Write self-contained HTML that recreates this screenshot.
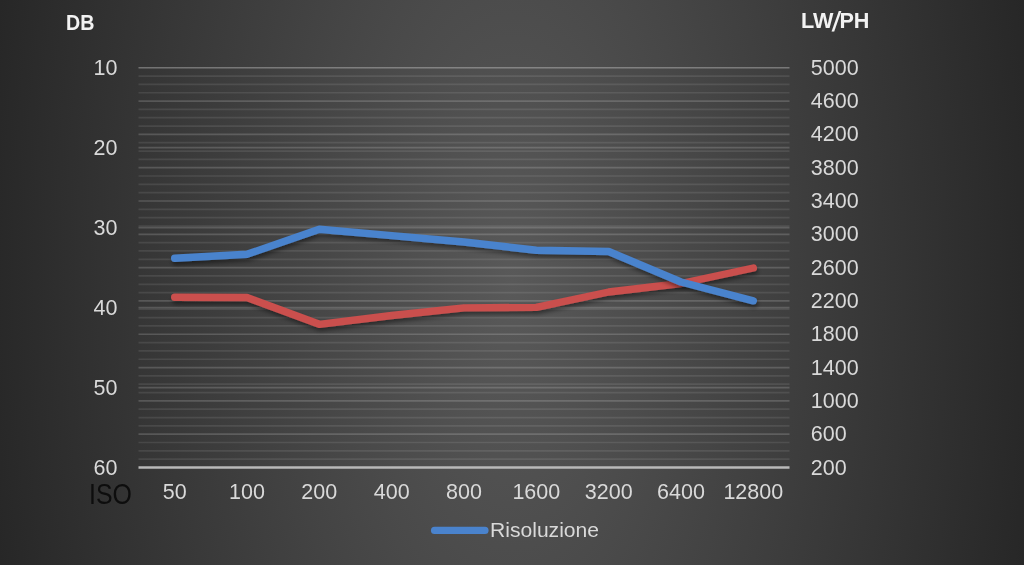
<!DOCTYPE html>
<html><head><meta charset="utf-8"><style>
html,body{margin:0;padding:0;}
body{width:1024px;height:565px;overflow:hidden;position:relative;
background:radial-gradient(540px 1128px at 512px 282px, #595959 0%, #262626 100%);
font-family:"Liberation Sans",sans-serif;}
svg{position:absolute;left:0;top:0;}
.gm{stroke:rgba(255,255,255,0.09);stroke-width:1.7}
.gM{stroke:rgba(255,255,255,0.165);stroke-width:1.7}
.gP{stroke:rgba(255,255,255,0.165);stroke-width:1.7}
.ax{stroke:#b9b9b9;stroke-width:2.6}
.t{position:absolute;white-space:nowrap;line-height:24px;color:#d9d9d9;}
.num{font-size:21.5px;}
.r{text-align:right;}
.c{text-align:center;}
.b{font-weight:bold;color:#f2f2f2;}
</style></head><body>
<svg width="1024" height="565" viewBox="0 0 1024 565">
<defs><filter id="gb" x="0" y="-1" width="1" height="3"><feGaussianBlur stdDeviation="0 0.65"/></filter><filter id="sh" x="-10%" y="-50%" width="120%" height="200%"><feGaussianBlur in="SourceAlpha" stdDeviation="2"/><feOffset dx="1" dy="2.5" result="o"/><feComponentTransfer><feFuncA type="linear" slope="0.45"/></feComponentTransfer><feMerge><feMergeNode/><feMergeNode in="SourceGraphic"/></feMerge></filter></defs>
<g filter="url(#gb)"><line x1="138.5" x2="789.5" y1="459.17" y2="459.17" class="gm"/><line x1="138.5" x2="789.5" y1="450.84" y2="450.84" class="gm"/><line x1="138.5" x2="789.5" y1="442.52" y2="442.52" class="gm"/><line x1="138.5" x2="789.5" y1="425.86" y2="425.86" class="gm"/><line x1="138.5" x2="789.5" y1="417.53" y2="417.53" class="gm"/><line x1="138.5" x2="789.5" y1="409.20" y2="409.20" class="gm"/><line x1="138.5" x2="789.5" y1="392.55" y2="392.55" class="gm"/><line x1="138.5" x2="789.5" y1="384.22" y2="384.22" class="gm"/><line x1="138.5" x2="789.5" y1="375.89" y2="375.89" class="gm"/><line x1="138.5" x2="789.5" y1="359.23" y2="359.23" class="gm"/><line x1="138.5" x2="789.5" y1="350.91" y2="350.91" class="gm"/><line x1="138.5" x2="789.5" y1="342.58" y2="342.58" class="gm"/><line x1="138.5" x2="789.5" y1="325.92" y2="325.92" class="gm"/><line x1="138.5" x2="789.5" y1="317.59" y2="317.59" class="gm"/><line x1="138.5" x2="789.5" y1="309.27" y2="309.27" class="gm"/><line x1="138.5" x2="789.5" y1="292.61" y2="292.61" class="gm"/><line x1="138.5" x2="789.5" y1="284.28" y2="284.28" class="gm"/><line x1="138.5" x2="789.5" y1="275.95" y2="275.95" class="gm"/><line x1="138.5" x2="789.5" y1="259.30" y2="259.30" class="gm"/><line x1="138.5" x2="789.5" y1="250.97" y2="250.97" class="gm"/><line x1="138.5" x2="789.5" y1="242.64" y2="242.64" class="gm"/><line x1="138.5" x2="789.5" y1="225.98" y2="225.98" class="gm"/><line x1="138.5" x2="789.5" y1="217.66" y2="217.66" class="gm"/><line x1="138.5" x2="789.5" y1="209.33" y2="209.33" class="gm"/><line x1="138.5" x2="789.5" y1="192.67" y2="192.67" class="gm"/><line x1="138.5" x2="789.5" y1="184.34" y2="184.34" class="gm"/><line x1="138.5" x2="789.5" y1="176.02" y2="176.02" class="gm"/><line x1="138.5" x2="789.5" y1="159.36" y2="159.36" class="gm"/><line x1="138.5" x2="789.5" y1="151.03" y2="151.03" class="gm"/><line x1="138.5" x2="789.5" y1="142.70" y2="142.70" class="gm"/><line x1="138.5" x2="789.5" y1="126.05" y2="126.05" class="gm"/><line x1="138.5" x2="789.5" y1="117.72" y2="117.72" class="gm"/><line x1="138.5" x2="789.5" y1="109.39" y2="109.39" class="gm"/><line x1="138.5" x2="789.5" y1="92.73" y2="92.73" class="gm"/><line x1="138.5" x2="789.5" y1="84.41" y2="84.41" class="gm"/><line x1="138.5" x2="789.5" y1="76.08" y2="76.08" class="gm"/><line x1="138.5" x2="789.5" y1="434.19" y2="434.19" class="gM"/><line x1="138.5" x2="789.5" y1="400.88" y2="400.88" class="gM"/><line x1="138.5" x2="789.5" y1="367.56" y2="367.56" class="gM"/><line x1="138.5" x2="789.5" y1="334.25" y2="334.25" class="gM"/><line x1="138.5" x2="789.5" y1="300.94" y2="300.94" class="gM"/><line x1="138.5" x2="789.5" y1="267.62" y2="267.62" class="gM"/><line x1="138.5" x2="789.5" y1="234.31" y2="234.31" class="gM"/><line x1="138.5" x2="789.5" y1="201.00" y2="201.00" class="gM"/><line x1="138.5" x2="789.5" y1="167.69" y2="167.69" class="gM"/><line x1="138.5" x2="789.5" y1="134.38" y2="134.38" class="gM"/><line x1="138.5" x2="789.5" y1="101.06" y2="101.06" class="gM"/><line x1="138.5" x2="789.5" y1="67.75" y2="67.75" class="gM"/><line x1="138.5" x2="789.5" y1="67.75" y2="67.75" class="gP"/><line x1="138.5" x2="789.5" y1="147.70" y2="147.70" class="gP"/><line x1="138.5" x2="789.5" y1="227.65" y2="227.65" class="gP"/><line x1="138.5" x2="789.5" y1="307.60" y2="307.60" class="gP"/><line x1="138.5" x2="789.5" y1="387.55" y2="387.55" class="gP"/></g>
<line x1="138.5" x2="789.5" y1="467.50" y2="467.50" class="ax"/>
<polyline points="174.7,297.2 247.0,297.5 319.3,324.3 391.7,315.5 464.0,307.9 536.3,307.4 608.7,292.0 681.0,283.5 753.3,268.0" fill="none" stroke="#ca4f4d" stroke-width="7.4" stroke-linecap="round" stroke-linejoin="round" filter="url(#sh)"/>
<polyline points="174.7,258.2 247.0,254.3 319.3,229.3 391.7,235.6 464.0,242.0 536.3,250.2 608.7,251.5 681.0,282.0 753.3,300.8" fill="none" stroke="#4a83cd" stroke-width="7.4" stroke-linecap="round" stroke-linejoin="round" filter="url(#sh)"/>
<line x1="434.5" x2="485" y1="530.4" y2="530.4" stroke="#4a83cd" stroke-width="7.1" stroke-linecap="round"/>
</svg>
<div class="t b" style="left:65.8px;top:10.9px;font-size:22.5px;transform:scaleX(0.873);transform-origin:0 0;">DB</div>
<div class="t b" style="left:801px;top:8.55px;font-size:22.6px;transform:scaleX(0.957);transform-origin:0 0;">LW<span style="display:inline-block;transform:skewX(-12deg) scaleY(1.22) translateY(1.3px)">/</span>PH</div>
<div class="t" style="left:89px;top:478px;font-size:28.9px;line-height:32px;color:#0d0d0d;transform:scaleX(0.86);transform-origin:0 0;">ISO</div>
<div class="t" style="left:490px;top:518px;font-size:21.1px;">Risoluzione</div>
<div class="t num r" style="right:906.5px;top:55.8px">10</div><div class="t num r" style="right:906.5px;top:135.7px">20</div><div class="t num r" style="right:906.5px;top:215.7px">30</div><div class="t num r" style="right:906.5px;top:295.6px">40</div><div class="t num r" style="right:906.5px;top:375.6px">50</div><div class="t num r" style="right:906.5px;top:455.5px">60</div><div class="t num" style="left:810.8px;top:455.5px">200</div><div class="t num" style="left:810.8px;top:422.2px">600</div><div class="t num" style="left:810.8px;top:388.9px">1000</div><div class="t num" style="left:810.8px;top:355.6px">1400</div><div class="t num" style="left:810.8px;top:322.2px">1800</div><div class="t num" style="left:810.8px;top:288.9px">2200</div><div class="t num" style="left:810.8px;top:255.6px">2600</div><div class="t num" style="left:810.8px;top:222.3px">3000</div><div class="t num" style="left:810.8px;top:189.0px">3400</div><div class="t num" style="left:810.8px;top:155.7px">3800</div><div class="t num" style="left:810.8px;top:122.4px">4200</div><div class="t num" style="left:810.8px;top:89.1px">4600</div><div class="t num" style="left:810.8px;top:55.8px">5000</div><div class="t num c" style="left:124.7px;width:100px;top:479.7px">50</div><div class="t num c" style="left:197.0px;width:100px;top:479.7px">100</div><div class="t num c" style="left:269.3px;width:100px;top:479.7px">200</div><div class="t num c" style="left:341.7px;width:100px;top:479.7px">400</div><div class="t num c" style="left:414.0px;width:100px;top:479.7px">800</div><div class="t num c" style="left:486.3px;width:100px;top:479.7px">1600</div><div class="t num c" style="left:558.7px;width:100px;top:479.7px">3200</div><div class="t num c" style="left:631.0px;width:100px;top:479.7px">6400</div><div class="t num c" style="left:703.3px;width:100px;top:479.7px">12800</div>
</body></html>
